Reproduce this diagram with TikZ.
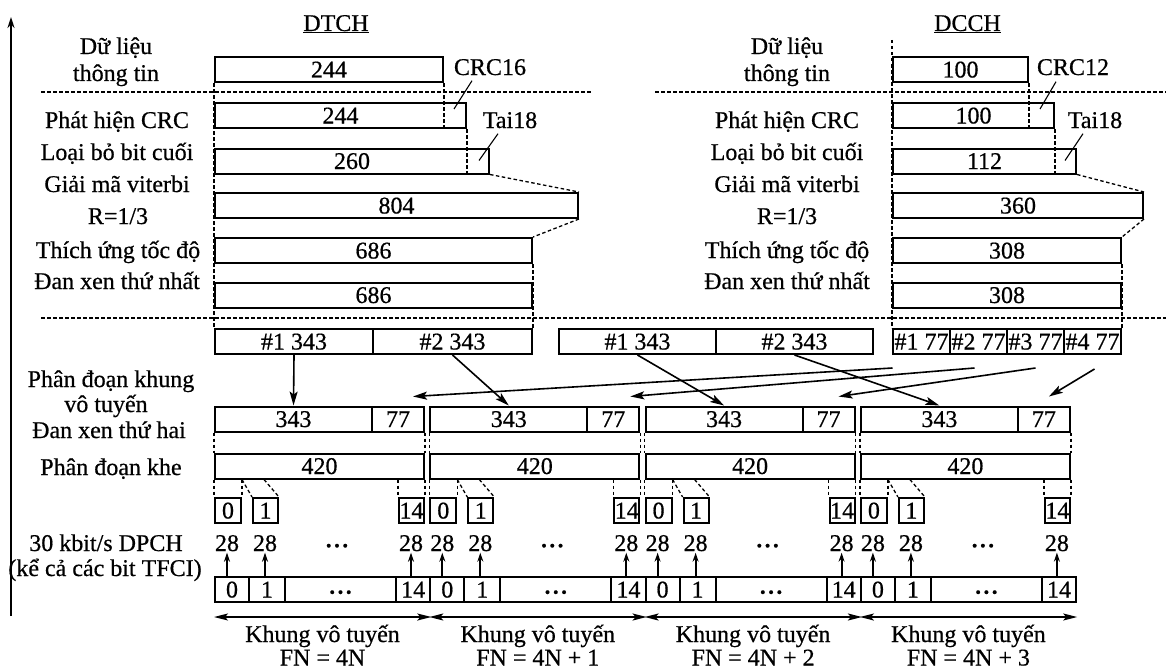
\documentclass[tikz,border=0pt]{standalone}
\usepackage{fontspec}
\setmainfont[FakeBold=0.6]{Liberation Serif}
\usetikzlibrary{arrows.meta, calc, backgrounds}

\newcommand{\slotdots}{{\fontsize{16}{16}\selectfont •\,•\,•}}

\tikzset{
  blk/.style={draw, line width=2pt, fill=white, inner sep=0pt, minimum height=25pt, text height=16pt, text depth=0pt},
  slot/.style={blk, minimum width=25pt},
  lbl/.style={inner sep=1.5pt, text height=16pt, text depth=0pt},
  dsh/.style={line width=1.3pt, dash pattern=on 3.5pt off 2.5pt},
  lead/.style={line width=1.1pt},
  arr/.style={line width=1.6pt, -{Stealth[length=14pt, width=8pt, inset=3pt]}},
  uparr/.style={line width=1.8pt, -{Stealth[length=9pt, width=6pt]}},
  dblarr/.style={line width=1.6pt, {Stealth[length=14pt, width=7pt, inset=3pt]}-{Stealth[length=14pt, width=7pt, inset=3pt]}},
  axisline/.style={line width=1.8pt, -{Stealth[length=11pt, width=7pt]}}
}

\begin{document}
\begin{tikzpicture}[x=1pt, y=-1pt, font=\fontsize{24}{26}\selectfont]
\useasboundingbox (0,0) rectangle (1166,669);

% axis
\coordinate (axb) at (11,616);
\coordinate (axt) at (11,17);
\draw[axisline] (axb) -- (axt);

% headings
\node[lbl] (dtch) at (336,23) {\underline{DTCH}};
\node[lbl] (dcch) at (967.5,23) {\underline{DCCH}};

% left labels
\node[lbl] (l1a) at (116,46) {Dữ liệu};
\node[lbl] (l1b) at (116,73) {thông tin};
\node[lbl] (l2) at (117,120) {Phát hiện CRC};
\node[lbl] (l3) at (117,152) {Loại bỏ bit cuối};
\node[lbl] (l4a) at (117,184) {Giải mã viterbi};
\node[lbl] (l4b) at (118,216) {R=1/3};
\node[lbl] (l5) at (118,250) {Thích ứng tốc độ};
\node[lbl] (l6) at (117,281) {Đan xen thứ nhất};

% right labels
\node[lbl] (r1a) at (787,46) {Dữ liệu};
\node[lbl] (r1b) at (787,73) {thông tin};
\node[lbl] (r2) at (787,120) {Phát hiện CRC};
\node[lbl] (r3) at (787,152) {Loại bỏ bit cuối};
\node[lbl] (r4a) at (787,184) {Giải mã viterbi};
\node[lbl] (r4b) at (787,216) {R=1/3};
\node[lbl] (r5) at (787,250) {Thích ứng tốc độ};
\node[lbl] (r6) at (787,281) {Đan xen thứ nhất};

% lower labels
\node[lbl] (m1a) at (111,379) {Phân đoạn khung};
\node[lbl] (m1b) at (106,404) {vô tuyến};
\node[lbl] (m2) at (109,430) {Đan xen thứ hai};
\node[lbl] (m3) at (111,467) {Phân đoạn khe};
\node[lbl] (m4a) at (106,543) {30 kbit/s DPCH};
\node[lbl] (m4b) at (105,568) {(kể cả các bit TFCI)};

% DTCH blocks
\node[blk, minimum width=228pt] (dtinfo) at (329,69.5) {244};
\node[blk, minimum width=251pt] (dtcrc) at (340.5,115.5) {244};
\node[blk, minimum width=274pt] (dttail) at (352,161) {260};
\node[blk, minimum width=363pt] (dtvit) at (396.5,205.5) {804};
\node[blk, minimum width=317pt] (dtrm) at (373.5,250.5) {686};
\node[blk, minimum width=317pt] (dtil) at (373.5,295) {686};
\node[lbl] (crc16) at (490,67) {CRC16};
\node[lbl] (tai18a) at (510,120) {Tai18};

% DCCH blocks
\node[blk, minimum width=135pt] (dcinfo) at (960.5,69.5) {100};
\node[blk, minimum width=161pt] (dccrc) at (973.5,115.5) {100};
\node[blk, minimum width=183pt] (dctail) at (984.5,161) {112};
\node[blk, minimum width=250pt] (dcvit) at (1018,205.5) {360};
\node[blk, minimum width=228pt] (dcrm) at (1007,250.5) {308};
\node[blk, minimum width=228pt] (dcil) at (1007,295) {308};
\node[lbl] (crc12) at (1073,67) {CRC12};
\node[lbl] (tai18b) at (1095,120) {Tai18};

% radio frame segments
\node[blk, minimum width=158pt] (dts1) at (294,341.5) {\#1 343};
\node[blk, minimum width=159pt] (dts2) at (452.5,341.5) {\#2 343};
\node[blk, minimum width=157pt] (dus1) at (637.5,341.5) {\#1 343};
\node[blk, minimum width=157pt] (dus2) at (794.5,341.5) {\#2 343};
\node[blk, minimum width=57pt] (dcs1) at (921.5,341.5) {\#1 77};
\node[blk, minimum width=57pt] (dcs2) at (978.5,341.5) {\#2 77};
\node[blk, minimum width=57pt] (dcs3) at (1035.5,341.5) {\#3 77};
\node[blk, minimum width=57pt] (dcs4) at (1092.5,341.5) {\#4 77};

% frames
\foreach \i/\fn in {0/4N, 1/{4N + 1}, 2/{4N + 2}, 3/{4N + 3}} {
  \pgfmathsetmacro\L{215+215.3*\i}
  \node[blk, minimum width=157pt] (fa\i) at (\L+78.5,419) {343};
  \node[blk, minimum width=52pt] (fb\i) at (\L+183,419) {77};
  \node[blk, minimum width=209pt] (fc\i) at (\L+104.5,466) {420};
  \node[slot, minimum width=26pt] (sa\i) at (\L+13,510.5) {0};
  \node[slot] (sb\i) at (\L+50.5,510.5) {1};
  \node[slot] (sc\i) at (\L+196.5,510.5) {14};
  \node[lbl] (ta\i) at (\L+12,543) {28};
  \node[lbl] (tb\i) at (\L+50,543) {28};
  \node[lbl] (tm\i) at (\L+122,543) {\slotdots};
  \node[lbl] (td\i) at (\L+196,543) {28};
  \node[blk, minimum width=34pt] (ba\i) at (\L+17,589.5) {0};
  \node[blk, minimum width=36pt] (bb\i) at (\L+52,589.5) {1};
  \node[blk, minimum width=111pt] (bm\i) at (\L+125.5,589.5) {\slotdots};
  \node[blk, minimum width=34.3pt] (bd\i) at (\L+198.15,589.5) {14};
  \draw[uparr] (ta\i |- ba\i.north) -- (ta\i.south);
  \draw[uparr] (tb\i |- bb\i.north) -- (tb\i.south);
  \draw[uparr] (td\i |- bd\i.north) -- (td\i.south);
  \draw[dblarr] ($(ba\i.south west)+(0,14)$) -- ($(bd\i.south east)+(0,14)$);
  \node[lbl] (kh\i) at (\L+107.5,634) {Khung vô tuyến};
  \node[lbl] (fn\i) at (\L+107.5,657.5) {FN = \fn};
  \draw[dsh] (fa\i.south west) -- (fc\i.north west);
  \draw[dsh] (fb\i.south east) -- (fc\i.north east);
  \draw[dsh] (fc\i.south west) -- (sa\i.north west);
  \draw[dsh] (sa\i.north east |- fc\i.south) -- (sa\i.north east);
  \draw[dsh] (sa\i.north east |- fc\i.south) -- (sb\i.north west);
  \draw[dsh] ($(fc\i.south west)+(50,0)$) -- (sb\i.north east);
  \draw[dsh] (sc\i.north west |- fc\i.south) -- (sc\i.north west);
  \draw[dsh] (fc\i.south east) -- (sc\i.north east);
}

% segment arrows
\draw[arr] (dts1.south) -- (fa0.north);
\draw[arr] (dts2.south) -- (fa1.north);
\draw[arr] (dus1.south) -- (fa2.north);
\draw[arr] (dus2.south) -- (fa3.north);
\draw[arr] ($(dcs1.south)+(-29,13)$) -- ($(fb0.north)+(15,-9)$);
\draw[arr] ($(dcs2.south)+(-4,13)$) -- ($(fb1.north)+(17,-9)$);
\draw[arr] ($(dcs3.south)+(0,13)$) -- ($(fb2.north)+(10,-9)$);
\draw[arr] ($(dcs4.south)+(2,14)$) -- ($(fb3.north)+(5,-9)$);

% leaders
\draw[lead] ($(crc16.south)+(-18,4)$) -- ($(dtcrc.north east)+(-13,7)$);
\draw[lead] ($(tai18a.south)+(-12,4)$) -- ($(dttail.north east)+(-11,13)$);
\draw[lead] ($(crc12.south)+(-17,5)$) -- ($(dccrc.north east)+(-15,7)$);
\draw[lead] ($(tai18b.south)+(-12,4)$) -- ($(dctail.north east)+(-12,13)$);

% dashed guides
\draw[dsh] (41,92) -- (591,92);
\draw[dsh] (655,92) -- (1166,92);
\draw[dsh] (41,318) -- (1166,318);
\draw[dsh] (dtinfo.south east) -- (dtinfo.south east |- dtcrc.south);
\draw[dsh] (dtcrc.south east) -- (dtcrc.south east |- dttail.south);
\draw[dsh] (dttail.south east) -- (dtvit.north east);
\draw[dsh] (dtvit.south east) -- (dtrm.north east);
\draw[dsh] (dcinfo.south east) -- (dcinfo.south east |- dccrc.south);
\draw[dsh] (dccrc.south east) -- (dccrc.south east |- dctail.south);
\draw[dsh] (dctail.south east) -- (dcvit.north east);
\draw[dsh] (dcvit.south east) -- (dcrm.north east);
\begin{scope}[on background layer]
\draw[dsh] (dtinfo.south west) -- (dts1.north west);
\draw[dsh] (dtrm.south east) -- (dts2.north east);
\draw[dsh] ($(dcinfo.north west)+(0,-16)$) -- (dcs1.north west);
\draw[dsh] (dcrm.south east) -- (dcs4.north east);
\end{scope}
\end{tikzpicture}
\end{document}
